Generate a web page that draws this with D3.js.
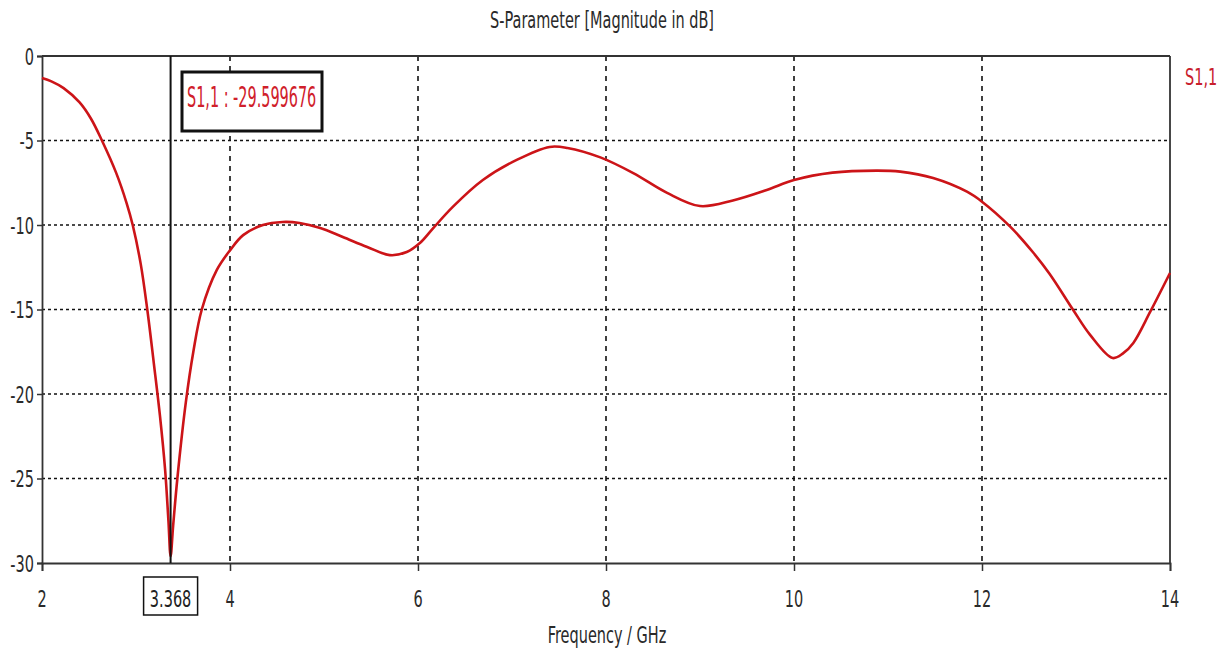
<!DOCTYPE html>
<html>
<head>
<meta charset="utf-8">
<script src="https://cdn.jsdelivr.net/npm/d3@7"></script>
<style>
  html, body { margin: 0; padding: 0; background: #fff; }
  svg { display: block; }
  text { font-family: "DejaVu Sans", Verdana, sans-serif; }
</style>
</head>
<body>
<svg id="chart" width="1231" height="653"></svg>
<script>
// S11 magnitude sweep (frequency in GHz, magnitude in dB)
const freqGHz = [
  2.00, 2.10, 2.23, 2.40, 2.52, 2.635, 2.79, 2.90, 2.965, 3.05, 3.12, 3.19,
  3.255, 3.31, 3.345, 3.368, 3.395, 3.44, 3.53, 3.61, 3.70, 3.86, 4.00, 4.14,
  4.35, 4.56, 4.74, 4.96, 5.20, 5.46, 5.70, 5.88, 6.02, 6.16, 6.37, 6.69,
  7.05, 7.40, 7.59, 7.94, 8.29, 8.65, 9.00, 9.35, 9.71, 10.00, 10.41, 10.88,
  11.13, 11.48, 11.84, 12.00, 12.30, 12.54, 12.72, 12.97, 13.15, 13.39, 13.50,
  13.61, 13.79, 14.00
];
const s11dB = [
  -1.30, -1.50, -1.90, -2.75, -3.70, -4.97, -6.93, -8.70, -10.00, -12.30, -15.00, -18.20,
  -21.30, -24.50, -27.50, -29.599676, -27.80, -25.00, -20.50, -17.50, -15.00, -12.66, -11.50, -10.60,
  -10.00, -9.82, -9.88, -10.18, -10.71, -11.30, -11.78, -11.60, -11.07, -10.20, -8.93, -7.34,
  -6.15, -5.38, -5.44, -6.00, -6.93, -8.10, -8.88, -8.55, -7.93, -7.34, -6.90, -6.78,
  -6.84, -7.22, -8.03, -8.62, -10.10, -11.60, -12.90, -15.03, -16.50, -17.87, -17.60,
  -16.98, -15.13, -12.84
];
const xTicks = [2, 4, 6, 8, 10, 12, 14];
const yTicks = [0, -5, -10, -15, -20, -25, -30];
const markerFreq = 3.368;
const markerValue = -29.599676;
const seriesName = "S1,1";
const titleText = "S-Parameter [Magnitude in dB]";
const xLabelText = "Frequency / GHz";

const svg = d3.select("#chart");
const plot = { left: 42, right: 1170, top: 56, bottom: 563 };

const x = d3.scaleLinear().domain([2, 14]).range([plot.left, plot.right]);
const y = d3.scaleLinear().domain([-30, 0]).range([plot.bottom, plot.top]);

// Condensed text: glyphs squeezed horizontally like the narrow plot font
const SX = 0.63;
function label(g, txt, px, py, opts = {}) {
  const size = opts.size || 23;
  const sx = opts.sx || SX;
  return g.append("text")
    .attr("transform", `translate(${px},${py}) scale(${sx},1)`)
    .attr("text-anchor", opts.anchor || "start")
    .attr("font-size", size)
    .attr("fill", opts.fill || "#2a2a2a")
    .text(txt);
}

// Grid: dotted horizontals, dashed verticals
const grid = svg.append("g");
grid.selectAll("line.h")
  .data(yTicks.filter(v => v !== 0 && v !== -30))
  .join("line")
  .attr("x1", plot.left).attr("x2", plot.right)
  .attr("y1", d => y(d)).attr("y2", d => y(d))
  .attr("stroke", "#111").attr("stroke-width", 1.6)
  .attr("stroke-dasharray", "3,3");
grid.selectAll("line.v")
  .data(xTicks.filter(v => v !== 2 && v !== 14))
  .join("line")
  .attr("y1", plot.top).attr("y2", plot.bottom)
  .attr("x1", d => x(d)).attr("x2", d => x(d))
  .attr("stroke", "#111").attr("stroke-width", 1.6)
  .attr("stroke-dasharray", "5,5");

// Axes with D3 tick generators
const xAxis = d3.axisBottom(x).tickValues(xTicks).tickSize(8).tickFormat("");
const yAxis = d3.axisLeft(y).tickValues(yTicks).tickSize(5).tickFormat("");
const gx = svg.append("g").attr("transform", `translate(0,${plot.bottom})`).call(xAxis);
const gy = svg.append("g").attr("transform", `translate(${plot.left},0)`).call(yAxis);
[gx, gy].forEach(g => {
  g.select(".domain").attr("stroke", "#333").attr("stroke-width", 1.8);
  g.selectAll(".tick line").attr("stroke", "#333").attr("stroke-width", 1.5);
});

// Frame top and right
svg.append("line").attr("x1", plot.left).attr("x2", plot.right)
  .attr("y1", plot.top).attr("y2", plot.top)
  .attr("stroke", "#333").attr("stroke-width", 1.8);
svg.append("line").attr("x1", plot.right).attr("x2", plot.right)
  .attr("y1", plot.top).attr("y2", plot.bottom)
  .attr("stroke", "#333").attr("stroke-width", 1.8);

// Tick labels
const labels = svg.append("g");
xTicks.forEach(v => label(labels, String(v), x(v), 607, { anchor: "middle" }));
yTicks.forEach(v => label(labels, String(v), 34, y(v) + 8.5, { anchor: "end" }));

// Titles
label(svg, titleText, 602, 28, { anchor: "middle" });
label(svg, xLabelText, 607, 643, { anchor: "middle" });
label(svg, seriesName, 1185, 85, { fill: "#c8202c" });

// Curve
const pts = freqGHz.map((f, i) => [f, s11dB[i]]);
const line = d3.line().x(d => x(d[0])).y(d => y(d[1])).curve(d3.curveCatmullRom.alpha(0.5));
svg.append("path").datum(pts)
  .attr("d", line)
  .attr("fill", "none")
  .attr("stroke", "#cc1418")
  .attr("stroke-width", 2.6)
  .attr("stroke-linejoin", "round");

// Marker line at the resonance
svg.append("line")
  .attr("x1", x(markerFreq)).attr("x2", x(markerFreq))
  .attr("y1", plot.top).attr("y2", plot.bottom)
  .attr("stroke", "#111").attr("stroke-width", 2);

// Marker frequency box on the x axis
const mx = x(markerFreq);
svg.append("rect")
  .attr("x", mx - 27).attr("y", 577).attr("width", 54).attr("height", 38)
  .attr("fill", "#fff").attr("stroke", "#111").attr("stroke-width", 1.5);
label(svg, String(markerFreq), mx, 607, { anchor: "middle", fill: "#222" });

// Marker value box
svg.append("rect")
  .attr("x", 182).attr("y", 72).attr("width", 140).attr("height", 59)
  .attr("fill", "#fff").attr("stroke", "#111").attr("stroke-width", 3);
label(svg, `${seriesName} : ${markerValue}`, 187, 107, { size: 28, sx: 0.515, fill: "#d0202a" });
</script>
</body>
</html>
